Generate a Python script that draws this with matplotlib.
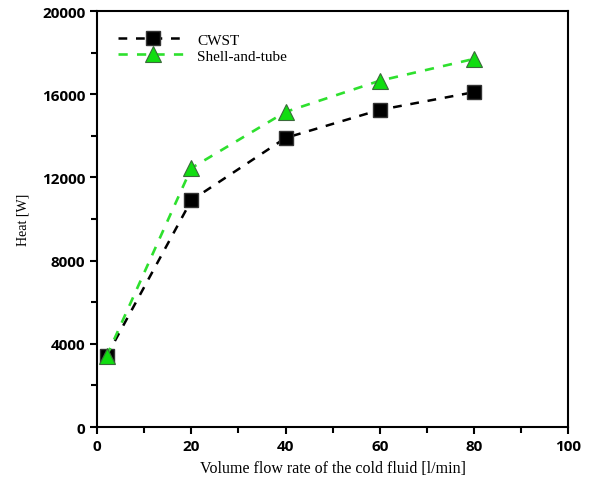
import matplotlib
matplotlib.use("Agg")
import matplotlib.pyplot as plt
from matplotlib.ticker import MultipleLocator

flow = [2, 20, 40, 60, 80]
cwst = [3400, 10900, 13900, 15250, 16100]
shell = [3400, 12450, 15150, 16650, 17700]
xticks = [0, 20, 40, 60, 80, 100]
yticks = [0, 4000, 8000, 12000, 16000, 20000]

fig = plt.figure(figsize=(5.92, 4.81), dpi=100)
ax = fig.add_axes([0.164, 0.110, 0.796, 0.865])

ax.plot(flow, cwst, linestyle=(0, (3.5, 3.5)), color="black", linewidth=1.8,
        marker="s", markersize=10, markerfacecolor="black", markeredgecolor="#333333",
        label="CWST")
ax.plot(flow, shell, linestyle=(0, (3.5, 3.5)), color="#2ee02e", linewidth=1.9,
        marker="^", markersize=11, markerfacecolor="#11dd11", markeredgecolor="#3a6a3a",
        markeredgewidth=0.8, label="Shell-and-tube")

ax.set_xlim(0, 100)
ax.set_ylim(0, 20000)
ax.set_xticks(xticks)
ax.set_yticks(yticks)
ax.xaxis.set_minor_locator(MultipleLocator(10))
ax.yaxis.set_minor_locator(MultipleLocator(2000))
ax.tick_params(which="both", direction="out", top=False, right=False, width=1.5)
ax.tick_params(which="major", length=5)
ax.tick_params(which="minor", length=4)
for lab in ax.get_xticklabels() + ax.get_yticklabels():
    lab.set_fontfamily("Open Sans")
    lab.set_fontweight("bold")
    lab.set_fontsize(11)
for s in ax.spines.values():
    s.set_linewidth(1.5)

ax.set_xlabel("Volume flow rate of the cold fluid [l/min]", family="Liberation Serif",
              fontsize=11.5, labelpad=5)
ax.set_ylabel("Heat [W]", family="Liberation Serif", fontsize=10, labelpad=9)

leg = ax.legend(loc="upper left", frameon=False, prop={"family": "Liberation Serif", "size": 11},
                handlelength=4.6, handletextpad=0.6, bbox_to_anchor=(0.015, 0.98),
                labelspacing=0.15)

fig.savefig("out.png", dpi=100)
